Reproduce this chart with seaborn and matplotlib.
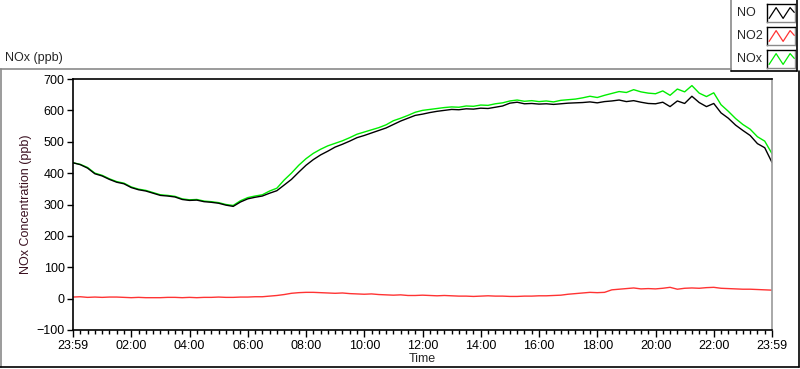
import numpy as np
import pandas as pd
import matplotlib
matplotlib.use('Agg')
import matplotlib.pyplot as plt
from matplotlib.lines import Line2D
import seaborn as sns

# %% ── Data (15-minute readings, hours since 23:59) ─────────
no_ppb = [433, 427, 416, 398, 391, 380, 371, 366, 354, 347, 343, 336, 329, 327, 324, 316,
          313, 314, 309, 307, 304, 298, 294, 308, 318, 323, 327, 336, 344, 362, 380, 403,
          425, 443, 458, 470, 483, 492, 502, 513, 520, 528, 536, 544, 555, 566, 575, 584,
          588, 593, 597, 600, 603, 602, 605, 604, 607, 606, 610, 614, 623, 626, 621, 622,
          620, 621, 619, 621, 623, 624, 625, 627, 624, 628, 630, 633, 628, 631, 626, 622,
          621, 626, 612, 630, 622, 645, 625, 612, 622, 592, 575, 553, 536, 520, 494, 481,
          434]
no2_ppb = [5, 6, 4, 5, 4, 5, 5, 4, 3, 4, 3, 3, 3, 4, 4, 3,
           4, 3, 4, 4, 5, 4, 4, 5, 5, 6, 6, 8, 10, 13, 17, 19,
           20, 20, 19, 18, 17, 18, 16, 15, 14, 15, 13, 12, 11, 12, 10, 10,
           11, 10, 9, 10, 9, 8, 8, 7, 8, 9, 8, 8, 7, 7, 8, 8,
           9, 9, 10, 11, 14, 16, 18, 20, 19, 20, 28, 30, 32, 34, 31, 32,
           31, 33, 36, 30, 33, 34, 33, 35, 36, 33, 32, 31, 30, 30, 29, 28,
           27]
nox_ppb = [433, 428, 418, 400, 393, 382, 373, 368, 356, 349, 345, 338, 331, 329, 326, 318,
           315, 316, 311, 309, 306, 300, 297, 312, 322, 327, 331, 343, 352, 378, 400, 425,
           446, 463, 476, 487, 495, 503, 513, 524, 531, 538, 545, 554, 567, 575, 584, 594,
           600, 603, 606, 609, 611, 610, 614, 613, 617, 616, 621, 624, 630, 633, 629, 631,
           628, 630, 627, 632, 634, 636, 640, 645, 641, 648, 654, 660, 657, 666, 659, 655,
           653, 662, 648, 668, 659, 679, 655, 644, 656, 618, 597, 574, 555, 540, 516, 502,
           462]
hours = np.arange(len(no_ppb)) * 0.25

tick_hours = [0, 2, 4, 6, 8, 10, 12, 14, 16, 18, 20, 22, 24]
tick_labels = ['23:59', '02:00', '04:00', '06:00', '08:00', '10:00', '12:00',
               '14:00', '16:00', '18:00', '20:00', '22:00', '23:59']
series_names = ['NO', 'NO2', 'NOx']
series_colors = ['#000000', '#ff3333', '#00ee00']

df = pd.DataFrame({
    'hours': np.concatenate([hours, hours, hours]),
    'ppb': no_ppb + no2_ppb + nox_ppb,
    'gas': ['NO'] * len(hours) + ['NO2'] * len(hours) + ['NOx'] * len(hours),
})

# %% ── Style ──────────────────────────────────────────────
sns.set_style('white')
plt.rcParams['font.family'] = ['Liberation Sans', 'DejaVu Sans']
plt.rcParams['font.size'] = 9

fig = plt.figure(figsize=(8, 3.69), dpi=100)
ax = fig.add_axes([73 / 800, 39 / 369, 699 / 800, 251 / 369])

palette = dict(zip(series_names, series_colors))
# green first, then black on top, red last
for name in ['NOx', 'NO', 'NO2']:
    sns.lineplot(data=df[df['gas'] == name], x='hours', y='ppb', color=palette[name],
                 linewidth=1.0, ax=ax, legend=False)

ax.set_xlim(0, 24)
ax.set_ylim(-100, 700)
ax.set_yticks(range(-100, 701, 100))
ax.set_xticks(tick_hours)
ax.set_xticklabels(tick_labels)
ax.set_xticks(np.arange(0, 24.01, 0.25), minor=True)
ax.tick_params(axis='x', which='both', bottom=True, top=False)
ax.tick_params(axis='y', which='major', left=True, right=False)
ax.tick_params(axis='x', which='major', direction='out', length=5, width=1, colors='black', pad=2)
ax.tick_params(axis='x', which='minor', direction='out', length=3, width=1, colors='black')
ax.tick_params(axis='y', which='major', direction='out', length=4, width=1, colors='black', pad=2)
ax.tick_params(axis='y', which='minor', length=0)
ax.set_xlabel('Time', fontsize=9, labelpad=1)
ax.set_ylabel('NOx Concentration (ppb)', fontsize=9, color='#3a1020', labelpad=3)

for side in ['left', 'top', 'bottom']:
    ax.spines[side].set_color('black')
    ax.spines[side].set_linewidth(1.2)
ax.spines['right'].set_color('#9a9a9a')
ax.spines['right'].set_linewidth(1.2)

# %% ── Outer graph frame ──────────────────────────────────
def fig_line(x0, y0, x1, y1, color, lw=1.2):
    fig.add_artist(Line2D([x0 / 800, x1 / 800], [1 - y0 / 369, 1 - y1 / 369],
                          color=color, linewidth=lw, transform=fig.transFigure))

fig_line(0, 69, 731, 69, '#8a8a8a')
fig_line(1, 69, 1, 367, '#8a8a8a')
fig_line(0, 367, 799, 367, 'black')
fig_line(799, 71, 799, 367, 'black')
fig.text(5 / 800, 1 - 58 / 369, 'NOx (ppb)', fontsize=9, va='center', ha='left')

# legend box
fig_line(731, 0, 731, 71, '#8a8a8a')
fig_line(731, 71, 797, 71, 'black')
fig_line(797, 0, 797, 71, 'black')
for i, (name, color) in enumerate(zip(series_names, series_colors)):
    yc = 13 + i * 23
    fig.text(737 / 800, 1 - yc / 369, name, fontsize=9, va='center', ha='left')
    sw = fig.add_axes([767 / 800, 1 - (yc + 9) / 369, 28 / 800, 18 / 369])
    sw.set_xlim(0, 4)
    sw.set_ylim(0, 3)
    sw.plot([0.3, 1.3, 2.3, 3.3, 3.9], [0.6, 2.4, 0.6, 2.4, 1.6], color=color, linewidth=0.9)
    sw.set_xticks([])
    sw.set_yticks([])
    sw.spines['left'].set_color('black')
    sw.spines['top'].set_color('black')
    sw.spines['right'].set_color('#8a8a8a')
    sw.spines['bottom'].set_color('#8a8a8a')
    for s in sw.spines.values():
        s.set_linewidth(1.0)

plt.savefig('out.png', dpi=100)
